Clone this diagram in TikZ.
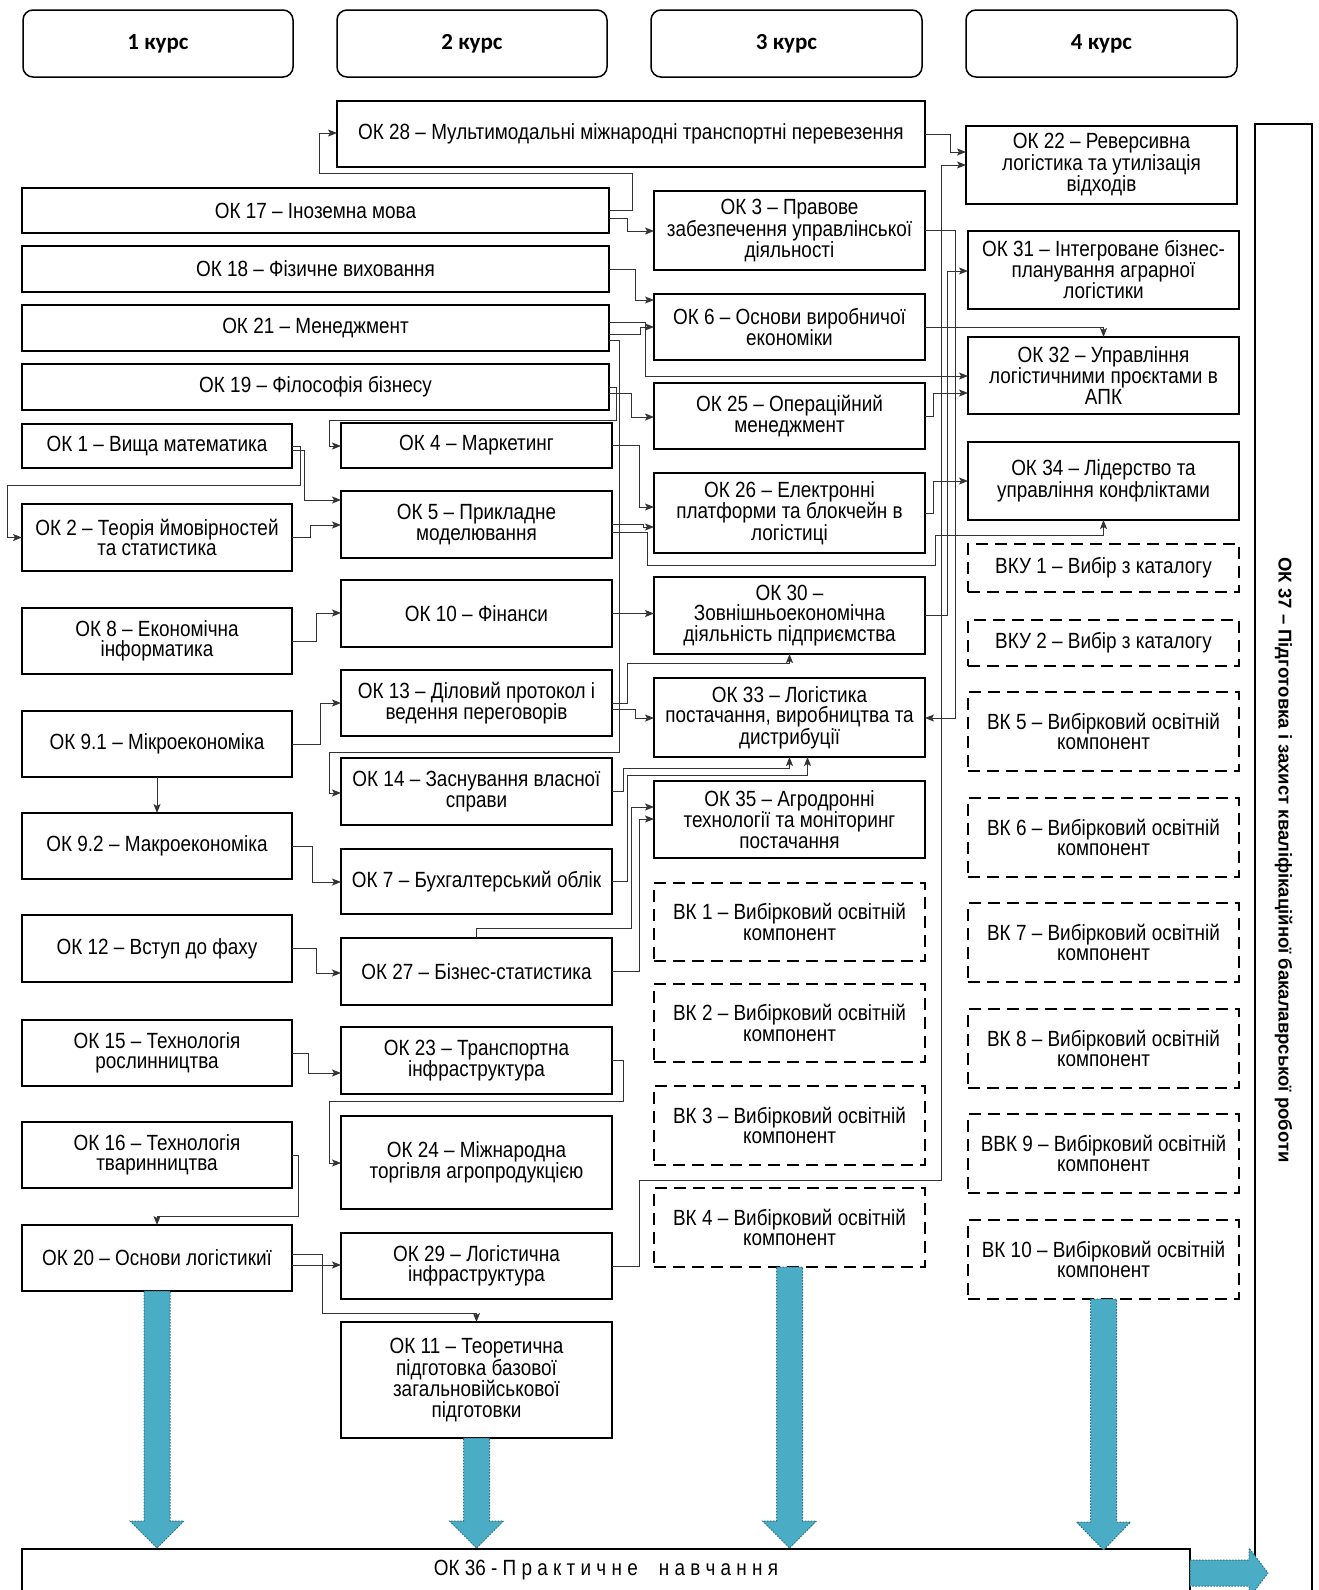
\documentclass[tikz,border=0pt]{standalone}
\usepackage{fontspec}
\setmainfont[FakeStretch=0.86]{Liberation Sans}
\newfontfamily\hdrf{Carlito}
\newfontfamily\boldf{Liberation Sans}
\usetikzlibrary{arrows.meta,calc}
\definecolor{bluef}{HTML}{4BACC6}
\definecolor{bluee}{HTML}{2E6E80}
\tikzset{
 bx/.style={draw, line width=1.5pt, align=center, inner sep=0pt, outer sep=0pt, font=\fontsize{22}{20.5}\selectfont},
 dbx/.style={bx, dash pattern=on 12pt off 7pt},
 hdr/.style={draw, line width=1.5pt, rounded corners=10pt, inner sep=0pt, outer sep=0pt, font=\hdrf\bfseries\fontsize{23}{26}\selectfont},
 conn/.style={draw=black!80, line width=1pt},
 arr/.style={conn, -{Stealth[length=9pt,width=7pt,inset=2pt]}},
 bigarr/.style={fill=bluef, draw=bluee, line width=1pt, dash pattern=on 1.5pt off 1.5pt},
}
\newcommand\mkbox[7]{\node[#6, minimum width={(#4-#2)*1pt}, minimum height={(#5-#3)*1pt}] (#1) at ({(#2+#4)/2},{(#3+#5)/2}) {#7};}
\newcommand\downarr[4]{\path[bigarr] ({#1-13},#2) -- ({#1+13},#2) -- ({#1+13},#3) -- ({#1+27},#3) -- (#1,#4) -- ({#1-27},#3) -- ({#1-13},#3) -- cycle;}
\begin{document}
\begin{tikzpicture}[x=1pt,y=-1pt]
\useasboundingbox (0,0) rectangle (1319,1590);
\clip (0,0) rectangle (1319,1590);
% headers
\mkbox{h1}{23}{10}{293}{77}{hdr}{1 курс}
\mkbox{h2}{337}{10}{607}{77}{hdr}{2 курс}
\mkbox{h3}{651}{10}{922}{77}{hdr}{3 курс}
\mkbox{h4}{966}{10}{1237}{77}{hdr}{4 курс}
% column 1
\mkbox{ok28}{337}{101}{925}{167}{bx}{ОК 28 – Мультимодальні міжнародні транспортні перевезення}
\mkbox{ok17}{22}{188}{609}{233}{bx}{ОК 17 – Іноземна мова}
\mkbox{ok18}{22}{246}{609}{292}{bx}{ОК 18 – Фізичне виховання}
\mkbox{ok21}{22}{305}{609}{351}{bx}{ОК 21 – Менеджмент}
\mkbox{ok19}{22}{364}{609}{410}{bx}{ОК 19 – Філософія бізнесу}
\mkbox{ok1}{22}{424}{292}{468}{bx}{ОК 1 – Вища математика}
\mkbox{ok2}{22}{504}{292}{571}{bx}{ОК 2 – Теорія ймовірностей\\та статистика}
\mkbox{ok8}{22}{608}{292}{674}{bx}{ОК 8 – Економічна\\інформатика}
\mkbox{ok91}{22}{711}{292}{777}{bx}{ОК 9.1 – Мікроекономіка}
\mkbox{ok92}{22}{813}{292}{879}{bx}{ОК 9.2 – Макроекономіка}
\mkbox{ok12}{22}{915}{292}{982}{bx}{ОК 12 – Вступ до фаху}
\mkbox{ok15}{22}{1020}{292}{1086}{bx}{ОК 15 – Технологія\\рослинництва}
\mkbox{ok16}{22}{1122}{292}{1188}{bx}{ОК 16 – Технологія\\тваринництва}
\mkbox{ok20}{22}{1225}{292}{1291}{bx}{ОК 20 – Основи логістикиї}
% column 2
\mkbox{ok4}{341}{423}{612}{468}{bx}{ОК 4 – Маркетинг}
\mkbox{ok5}{341}{491}{612}{558}{bx}{ОК 5 – Прикладне\\моделювання}
\mkbox{ok10}{341}{580}{612}{647}{bx}{ОК 10 – Фінанси}
\mkbox{ok13}{341}{670}{612}{736}{bx}{ОК 13 – Діловий протокол і\\ведення переговорів}
\mkbox{ok14}{341}{758}{612}{825}{bx}{ОК 14 – Заснування власної\\справи}
\mkbox{ok7}{341}{849}{612}{914}{bx}{ОК 7 – Бухгалтерський облік}
\mkbox{ok27}{341}{938}{612}{1005}{bx}{ОК 27 – Бізнес-статистика}
\mkbox{ok23}{341}{1027}{612}{1094}{bx}{ОК 23 – Транспортна\\інфраструктура}
\mkbox{ok24}{341}{1116}{612}{1209}{bx}{ОК 24 – Міжнародна\\торгівля агропродукцією}
\mkbox{ok29}{341}{1233}{612}{1299}{bx}{ОК 29 – Логістична\\інфраструктура}
\mkbox{ok11}{341}{1322}{612}{1438}{bx}{ОК 11 – Теоретична\\підготовка базової\\загальновійськової\\підготовки}
% column 3
\mkbox{ok3}{654}{191}{925}{270}{bx}{ОК 3 – Правове\\забезпечення управлінської\\діяльності}
\mkbox{ok6}{654}{294}{925}{360}{bx}{ОК 6 – Основи виробничої\\економіки}
\mkbox{ok25}{654}{383}{925}{449}{bx}{ОК 25 – Операційний\\менеджмент}
\mkbox{ok26}{654}{473}{925}{553}{bx}{ОК 26 – Електронні\\платформи та блокчейн в\\логістиці}
\mkbox{ok30}{654}{577}{925}{654}{bx}{ОК 30 –\\Зовнішньоекономічна\\діяльність підприємства}
\mkbox{ok33}{654}{678}{925}{757}{bx}{ОК 33 – Логістика\\постачання, виробництва та\\дистрибуції}
\mkbox{ok35}{654}{781}{925}{858}{bx}{ОК 35 – Агродронні\\технології та моніторинг\\постачання}
\mkbox{vk1}{654}{883}{925}{961}{dbx}{ВК 1 – Вибірковий освітній\\компонент}
\mkbox{vk2}{654}{984}{925}{1062}{dbx}{ВК 2 – Вибірковий освітній\\компонент}
\mkbox{vk3}{654}{1086}{925}{1165}{dbx}{ВК 3 – Вибірковий освітній\\компонент}
\mkbox{vk4}{654}{1188}{925}{1267}{dbx}{ВК 4 – Вибірковий освітній\\компонент}
% column 4
\mkbox{ok22}{966}{126}{1237}{204}{bx}{ОК 22 – Реверсивна\\логістика та утилізація\\відходів}
\mkbox{ok31}{968}{231}{1239}{309}{bx}{ОК 31 – Інтегроване бізнес-\\планування аграрної\\логістики}
\mkbox{ok32}{968}{337}{1239}{414}{bx}{ОК 32 – Управління\\логістичними проєктами в\\АПК}
\mkbox{ok34}{968}{442}{1239}{520}{bx}{ОК 34 – Лідерство та\\управління конфліктами}
\mkbox{vku1}{968}{544}{1239}{592}{dbx}{ВКУ 1 – Вибір з каталогу}
\mkbox{vku2}{968}{620}{1239}{666}{dbx}{ВКУ 2 – Вибір з каталогу}
\mkbox{vk5}{968}{692}{1239}{771}{dbx}{ВК 5 – Вибірковий освітній\\компонент}
\mkbox{vk6}{968}{798}{1239}{877}{dbx}{ВК 6 – Вибірковий освітній\\компонент}
\mkbox{vk7}{968}{903}{1239}{982}{dbx}{ВК 7 – Вибірковий освітній\\компонент}
\mkbox{vk8}{968}{1009}{1239}{1088}{dbx}{ВК 8 – Вибірковий освітній\\компонент}
\mkbox{vvk9}{968}{1114}{1239}{1193}{dbx}{ВВК 9 – Вибірковий освітній\\компонент}
\mkbox{vk10}{968}{1220}{1239}{1299}{dbx}{ВК 10 – Вибірковий освітній\\компонент}
% OK37 and OK36
\mkbox{ok37}{1255}{124}{1312}{1620}{bx}{}
\node[rotate=-90, font=\boldf\bfseries\fontsize{18.5}{20}\selectfont] (ok37t) at (1283.5,860) {ОК 37 – Підготовка і захист кваліфікаційної бакалаврської роботи};
\mkbox{ok36}{22}{1549}{1190}{1592}{bx}{ОК 36 - П р а к т и ч н е \ \ \ н а в ч а н н я}
% big blue arrows
\downarr{157}{1291}{1521}{1548}
\downarr{476.5}{1438}{1521}{1548}
\downarr{789.5}{1267}{1521}{1548}
\downarr{1103.5}{1299}{1522}{1550}
\path[bigarr] (1190,1560) -- (1249,1560) -- (1249,1548) -- (1268,1573) -- (1249,1598) -- (1249,1586) -- (1190,1586) -- cycle;
% connectors: column 1 -> column 2
\draw[arr] (ok1.east) -- (300,446) |- (7,485) |- (ok2.west);
\draw[arr] ([yshift=-4pt]ok1.east) -| (304,500) -- (ok5.west|-0,500);
\draw[arr] (ok2.east) -| (310,525) -- (ok5.west|-0,525);
\draw[arr] (ok8.east) -| (316,613) -- (ok10.west|-0,613);
\draw[arr] (ok91.east) -| (320,703) -- (ok13.west|-0,703);
\draw[arr] (ok91.south) -- (ok92.north);
\draw[arr] (ok92.east) -| (312,882) -- (ok7.west|-0,882);
\draw[arr] (ok12.east) -| (316,973) -- (ok27.west|-0,973);
\draw[arr] (ok15.east) -| (308,1073) -- (ok23.west|-0,1073);
\draw[arr] (ok16.east) -| (298,1216) -| (ok20.north);
\draw[arr] (ok20.east|-0,1265) -- (ok29.west|-0,1265);
\draw[arr] ([yshift=4pt]ok20.east) -| (322,1313) -| (ok11.north);
\draw[arr] (ok19.east) -| (616,420) -| (329,446) -- (ok4.west|-0,446);
\draw[arr] ([yshift=-12pt]ok21.east) -| (619,752) -| (329,793) -- (ok14.west|-0,793);
\draw[arr] (ok23.east) -| (623,1101) -| (329,1163) -- (ok24.west|-0,1163);
\draw[arr] (ok17.east) -| (632,173) -| (319,133) -- (ok28.west|-0,133);
% column 2 -> column 3
\draw[arr] ([yshift=-8pt]ok17.east) -| (627,231) -- (ok3.west|-0,231);
\draw[arr] (ok18.east) -| (635,300) -- (ok6.west|-0,300);
\draw[arr] ([yshift=-6pt]ok21.east) -| (640,327) -- (ok6.west|-0,327);
\draw[arr] ([yshift=6pt]ok21.east) -| (645,376) -- (ok32.west|-0,376);
\draw[arr] ([yshift=-6pt]ok19.east) -| (631,417) -- (ok25.west|-0,417);
\draw[arr] (ok4.east) -| (639,507) -- (ok26.west|-0,507);
\draw[arr] (ok5.east) -| (643,527) -- (ok26.west|-0,527);
\draw[arr] (ok10.east) -- (ok30.west|-ok10.east);
\draw[arr] (ok13.east) -| (627,663) -| (ok30.south);
\draw[arr] ([yshift=-6pt]ok13.east) -| (635,718) -- (ok33.west|-0,718);
\draw[arr] (ok14.east) -| (623,768) -| (ok33.south);
\draw[arr] (ok7.east) -| (627,775) -| ([xshift=18pt]ok33.south);
\draw[arr] (ok27.north) |- (631,928) |- (ok35.west|-0,807);
\draw[arr] (ok27.east) -| (639,819) -- (ok35.west|-0,819);
\draw[arr] (ok29.east) -| (639,1180) -| (941,165) -- (ok22.west|-0,165);
% column 3 -> column 4
\draw[arr] (ok28.east) -| (950,152) -- (ok22.west|-0,152);
\draw[arr] (ok6.east) -| (ok32.north);
\draw[arr] (ok30.east) -| (947,271) -- (ok31.west|-0,271);
\draw[arr] (ok25.east) -| (933,393) -- (ok32.west|-0,393);
\draw[arr] (ok26.east) -| (933,481) -- (ok34.west|-0,481);
\draw[arr] ([yshift=-8pt]ok5.east) -| (647,565) -| (935,535) -| (ok34.south);
\draw[arr] (ok3.east) -| (955,718) -- (ok33.east|-0,718);
\end{tikzpicture}
\end{document}
